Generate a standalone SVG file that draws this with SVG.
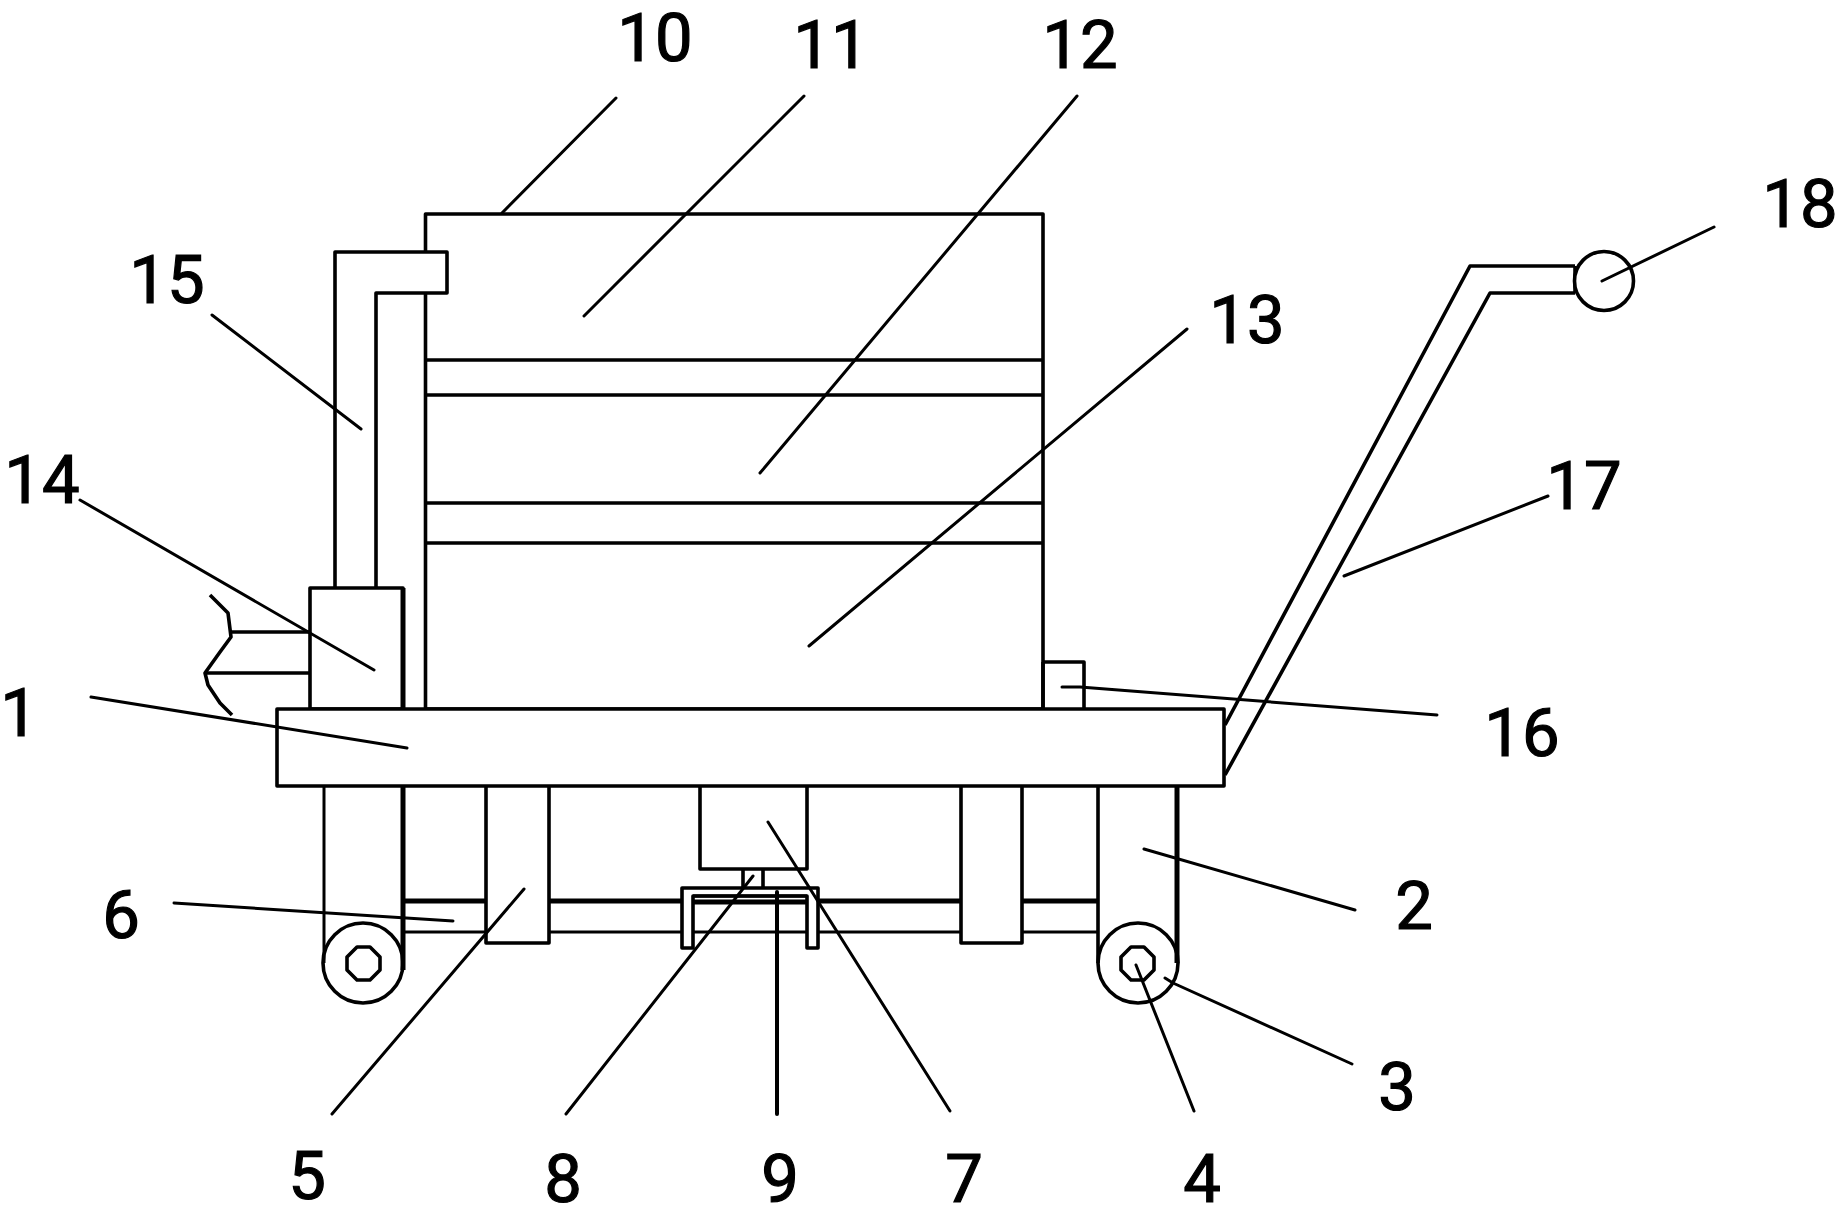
<svg xmlns="http://www.w3.org/2000/svg" width="1843" height="1219" viewBox="0 0 1843 1219">
<style>
.s{fill:none;stroke:#000;stroke-width:3.6;stroke-linejoin:round}
.w{fill:#fff;stroke:#000;stroke-width:3.6;stroke-linejoin:round}
.t{stroke-width:3}
.b{stroke-width:5}
.l{fill:none;stroke:#000;stroke-width:3;stroke-linecap:round;stroke-linejoin:round}
text{font-family:Roboto,"Liberation Sans",Arial,sans-serif;font-size:67px;font-weight:400;fill:#000;text-anchor:middle;stroke:#000;stroke-width:1.2}
</style>
<rect width="1843" height="1219" fill="#fff"/>
<g id="tank">
<rect class="s" x="425.500" y="214" width="617.500" height="495"/>
<path class="s" d="M425 360H1043M425 395H1043M425 503H1043M425 543H1043"/>
</g>
<g id="pipe"><path class="w" d="M335 588V252H447V293H376V588"/></g>
<g id="pump"><rect class="s" x="310" y="588" width="93" height="121"/><path class="s b" d="M403 588V709"/></g>
<g id="nozzle">
<path class="s" d="M231 632H310M205 673H310"/>
<path class="s" d="M210 595L228 613L231 637L220 652L205 673L208 685L220 703L232 715"/>
</g>
<g id="base"><rect class="w" x="277" y="709" width="947" height="77"/></g>
<g id="box16"><path class="s" d="M1043 662H1084V709M1043 662V709"/></g>
<g id="axle"><path class="s b" d="M403 901H486M549 901H682M693 902H807M818 901H961M1022 901H1098"/><path class="s t" d="M403 932H486M549 932H682M693 932H807M818 932H961M1022 932H1098"/></g>
<g id="leg-left"><path class="s t" d="M324 786V963"/><path class="s b" d="M403 786V970"/></g>
<g id="leg-right"><path class="s" d="M1098 786V963"/><path class="s b" d="M1177 786V963"/></g>
<g id="wheel-left"><circle class="s" cx="363" cy="963" r="40"/><path class="s" d="M357 947H370L380 957V970L370 980H357L347 970V957Z"/></g>
<g id="wheel-right"><circle class="s" cx="1138" cy="963" r="40"/><path class="s" d="M1131 947H1144L1154 957V970L1144 980H1131L1121 970V957Z"/></g>
<g id="post-left"><path class="s" d="M486 786V943H549V786"/></g>
<g id="post-right"><path class="s" d="M961 786V943H1022V786"/></g>
<g id="motor"><path class="s" d="M700 786V869H807V786"/><path class="s" d="M743 869V888M763 869V888"/></g>
<g id="clamp">
<path class="s" d="M682 948V888H818V948H807V896H693V948Z"/>
<path class="s t" d="M693 896H807"/>
</g>
<g id="handle"><path class="s" d="M1225 725L1470 266H1575M1225 775L1490 293H1575M1575 266V293"/><circle class="w" cx="1604" cy="281" r="29.500"/></g>
<g id="connectors">
<path class="l" d="M91 697L407 748"/>
<path class="l" d="M1144 849L1355 910"/>
<path class="l" d="M1165 978L1173 983L1352 1064"/>
<path class="l" d="M1136 965L1194 1111"/>
<path class="l" d="M524 889L332 1114"/>
<path class="l" d="M174 903L453 921"/>
<path class="l" d="M768 822L950 1111"/>
<path class="l" d="M753 876L566 1114"/>
<path class="l" style="stroke-width:4" d="M777 892V1114"/>
<path class="l" d="M616 98L502 213"/>
<path class="l" d="M804 96L584 316"/>
<path class="l" d="M1077 96L760 473"/>
<path class="l" d="M1187 329L809 646"/>
<path class="l" d="M80 500L374 670"/>
<path class="l" d="M212 315L361 429"/>
<path class="l" d="M1062 687H1080L1437 715"/>
<path class="l" d="M1548 496L1344 576"/>
<path class="l" d="M1602 281L1714 227"/>
</g>
<g id="labels">
<text x="19" y="736">1</text>
<text x="1414" y="929">2</text>
<text x="1397" y="1110">3</text>
<text x="1202" y="1202">4</text>
<text x="307" y="1199">5</text>
<text x="121" y="938">6</text>
<text x="964" y="1202">7</text>
<text x="563" y="1202">8</text>
<text x="780" y="1202">9</text>
<text x="655" y="61">10</text>
<text x="831" y="68">11</text>
<text x="1080" y="68">12</text>
<text x="1247" y="343">13</text>
<text x="42" y="503">14</text>
<text x="167" y="303">15</text>
<text x="1522" y="756">16</text>
<text x="1584" y="509">17</text>
<text x="1800" y="227">18</text>
</g>
</svg>
